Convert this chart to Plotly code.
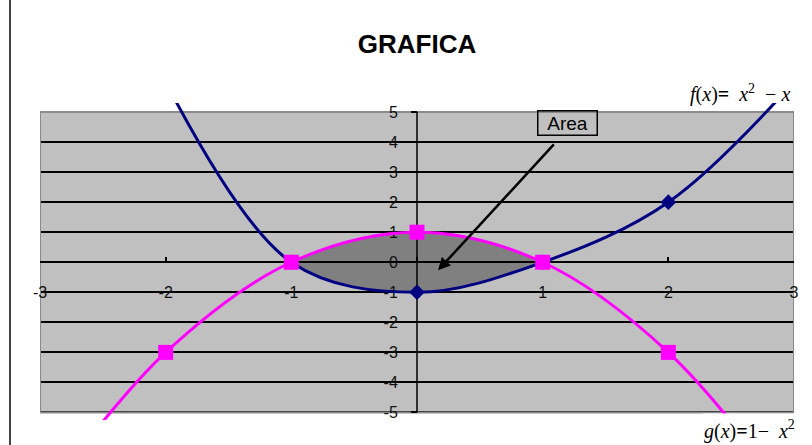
import plotly.graph_objects as go

# Node values of the two functions (smoothed lines are drawn through them)
f_x = [-2, -1, 0, 1, 2, 3]
f_y = [6, 0, -1, 0, 2, 6]
g_x = [-3, -2, -1, 0, 1, 2, 3]
g_y = [-8, -3, 0, 1, 0, -3, -8]

x_ticks = [-3, -2, -1, 0, 1, 2, 3]
y_ticks = [-5, -4, -3, -2, -1, 0, 1, 2, 3, 4, 5]

X_RANGE = [-3, 3]
Y_RANGE = [-5.25, 5.3]
AREA_X = [-1, 1]          # interval between the two intersection points
BOX_Y = [-5, 5]           # extent of the grey plotting panel

BLUE = "#000080"
PINK = "#FF00FF"
PANEL = "#C0C0C0"
AREA = "#808080"

W, H = 812, 445
M = dict(l=40, r=18, t=103, b=25)
PW = W - M["l"] - M["r"]
PH = H - M["t"] - M["b"]


def xfrac(v):
    return (v - X_RANGE[0]) / (X_RANGE[1] - X_RANGE[0])


def yfrac(v):
    return (v - Y_RANGE[0]) / (Y_RANGE[1] - Y_RANGE[0])


def px_to_paper(px, py):
    return (px - M["l"]) / PW, (H - M["b"] - py) / PH


fig = go.Figure()

# Shaded area between the curves: the same smoothed curves drawn in a
# sub-panel whose x-domain only covers the interval between the roots.
clear = dict(shape="spline", width=0, color="rgba(0,0,0,0)")
fig.add_trace(go.Scatter(x=f_x, y=f_y, mode="lines", line=clear,
                         xaxis="x", yaxis="y", hoverinfo="skip", showlegend=False))
fig.add_trace(go.Scatter(x=g_x, y=g_y, mode="lines", line=clear, fill="tonexty",
                         fillcolor=AREA, xaxis="x", yaxis="y",
                         hoverinfo="skip", showlegend=False))

# f(x) and g(x)
fig.add_trace(go.Scatter(x=f_x, y=f_y, mode="lines+markers",
                         line=dict(color=BLUE, width=3, shape="spline"),
                         marker=dict(symbol="diamond", size=12, color=BLUE),
                         xaxis="x2", yaxis="y2", showlegend=False))
fig.add_trace(go.Scatter(x=g_x, y=g_y, mode="lines+markers",
                         line=dict(color=PINK, width=3, shape="spline"),
                         marker=dict(symbol="square", size=15, color=PINK),
                         xaxis="x2", yaxis="y2", showlegend=False))

tick_font = dict(family="Liberation Sans, Arial, sans-serif", size=16, color="#111111")

fig.update_layout(
    width=W, height=H, margin=M,
    paper_bgcolor="white", plot_bgcolor="rgba(0,0,0,0)",
    title=dict(text="<b>GRAFICA</b>", x=0.5, xref="paper", xanchor="center",
               y=1 - 44 / H, yref="container", yanchor="middle",
               font=dict(family="Liberation Sans, Arial, sans-serif", size=26, color="#000")),
    xaxis=dict(domain=[xfrac(AREA_X[0]), xfrac(AREA_X[1])], range=AREA_X,
               visible=False, fixedrange=True),
    yaxis=dict(domain=[0, 1], range=Y_RANGE, visible=False, fixedrange=True),
    xaxis2=dict(domain=[0, 1], range=X_RANGE, anchor="free", position=yfrac(0),
                tickmode="array", tickvals=x_ticks,
                ticktext=[str(v) for v in x_ticks],
                ticks="inside", ticklen=5,
                tickwidth=1.5, tickcolor="#000", showline=True, linecolor="#000",
                linewidth=1.5, showgrid=False, zeroline=False, layer="below traces",
                tickfont=tick_font, ticklabelstandoff=16),
    yaxis2=dict(domain=[0, 1], range=Y_RANGE, anchor="free", position=xfrac(0),
                tickmode="array", tickvals=y_ticks,
                ticktext=[str(v) for v in y_ticks],
                ticks="outside", ticklen=6,
                tickwidth=1.5, tickcolor="#000", showline=False,
                showgrid=True, gridcolor="#000", gridwidth=1.5,
                zeroline=False, layer="below traces", tickfont=tick_font,
                ticklabelstandoff=10),
)

frame_x = (10 - M["l"]) / PW
shapes = [
    # grey panel
    dict(type="rect", xref="paper", x0=0, x1=1, yref="y2", y0=BOX_Y[0], y1=BOX_Y[1],
         fillcolor=PANEL, line=dict(width=0), layer="below"),
    # panel border
    dict(type="rect", xref="x2", x0=X_RANGE[0], x1=X_RANGE[1], yref="y2",
         y0=BOX_Y[0], y1=BOX_Y[1], line=dict(color="#8a8a8a", width=2),
         fillcolor="rgba(0,0,0,0)", layer="between"),
    # vertical axis line through x = 0
    dict(type="line", xref="x2", x0=0, x1=0, yref="y2", y0=BOX_Y[0], y1=BOX_Y[1],
         line=dict(color="#000", width=1.5), layer="between"),
    # outer frame on the left
    dict(type="line", xref="paper", x0=frame_x, x1=frame_x, yref="paper",
         y0=-1, y1=2, line=dict(color="#444", width=2), layer="above"),
]
fig.update_layout(shapes=shapes)

serif = "Liberation Serif, Times New Roman, serif"
nb = "\u00a0"

fx, fy = px_to_paper(688, 79)
fig.add_annotation(xref="paper", yref="paper", x=fx, y=fy, xanchor="left",
                   showarrow=False, align="left",
                   text=(f"<i>f</i>(<i>x</i>)<b>=</b>{nb}{nb}<i>x</i><sup>2</sup>"
                         f"{nb}{nb}−{nb}<i>x</i>"),
                   font=dict(family=serif, size=20, color="#000"))

gx, gy = px_to_paper(702, 413)
fig.add_annotation(xref="paper", yref="paper", x=gx, y=gy, xanchor="left",
                   yanchor="top", align="left",
                   showarrow=False, bgcolor="white", height=30, valign="middle",
                   text=(f"<i>g</i>(<i>x</i>)<b>=</b>1−{nb}{nb}<i>x</i>"
                         f"<sup>2</sup>"),
                   font=dict(family=serif, size=20, color="#000"))

# "Area" callout and its arrow
fig.add_annotation(xref="x2", yref="y2", x=1.20, y=4.63, showarrow=False,
                   text="Area", width=58, height=23, bordercolor="#000", borderwidth=1.5,
                   borderpad=0, font=dict(family="Liberation Sans, Arial, sans-serif",
                                          size=19, color="#000"))
fig.add_annotation(xref="x2", yref="y2", x=0.167, y=-0.27, axref="x2", ayref="y2",
                   ax=1.10, ay=3.97, text="", showarrow=True, arrowhead=2,
                   arrowsize=1, arrowwidth=2.5, arrowcolor="#000")

fig.write_html("out.html")
